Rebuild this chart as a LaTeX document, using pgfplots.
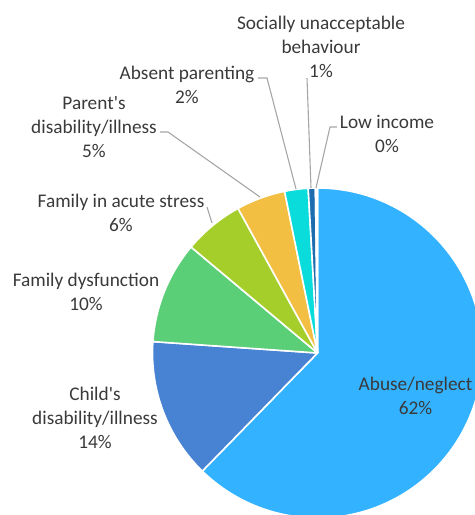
\documentclass[border=0pt]{standalone}
\usepackage{pgfplots}
\pgfplotsset{compat=1.18}
\usepackage{pgfplotstable}
\usepackage{fontspec}
\setmainfont{Carlito}
\definecolor{cabuse}{HTML}{33B2FF}
\definecolor{cchild}{HTML}{4782D3}
\definecolor{cdysf}{HTML}{5BCE78}
\definecolor{cacute}{HTML}{A6CE2B}
\definecolor{cparent}{HTML}{F3BF42}
\definecolor{cabsent}{HTML}{0ADCDC}
\definecolor{csocial}{HTML}{1E6DAE}
\definecolor{clow}{HTML}{2E75B6}
\definecolor{ctext}{HTML}{3A3A3A}
\definecolor{cline}{HTML}{A6A6A6}
\tikzset{lbl/.style={font=\fontsize{19.3bp}{24bp}\selectfont, text=ctext, align=center, inner sep=0pt}}

\pgfplotstableread[col sep=comma]{
name,value,color
Abuse/neglect,62.3,cabuse
Child's disability/illness,13.8,cchild
Family dysfunction,10.0,cdysf
Family in acute stress,5.9,cacute
Parent's disability/illness,4.8,cparent
Absent parenting,2.3,cabsent
Socially unacceptable behaviour,0.7,csocial
Low income,0.2,clow
}\piedata

\begin{document}
\begin{tikzpicture}
\begin{axis}[
  x=1bp, y=1bp,
  xmin=0, xmax=475, ymin=0, ymax=515,
  hide axis, clip=true,
]
\path (rel axis cs:0,0) rectangle (rel axis cs:1,1);
\pgfplotstablegetrowsof{\piedata}
\pgfmathtruncatemacro{\lastrow}{\pgfplotsretval-1}
\def\curangle{90}
\pgfplotsforeachungrouped \i in {0,...,\lastrow}{%
  \pgfplotstablegetelem{\i}{value}\of\piedata
  \let\sliceval\pgfplotsretval
  \pgfplotstablegetelem{\i}{color}\of\piedata
  \let\slicecolor\pgfplotsretval
  \pgfmathsetmacro{\endangle}{\curangle-3.6*\sliceval}%
  \edef\temp{\noexpand\fill[\slicecolor, draw=white, line width=1.6bp, line join=round]
    (axis cs:317.5,162) -- ++(\curangle:165bp) arc[start angle=\curangle, end angle=\endangle, radius=165bp] -- cycle;}%
  \temp
  \global\let\curangle\endangle
}
% leader lines
\draw[cline, line width=1.1bp] (axis cs:258,437) -- (axis cs:267,437) -- (axis cs:296,326);
\draw[cline, line width=1.1bp] (axis cs:307,437) -- (axis cs:311,327);
\draw[cline, line width=1.1bp] (axis cs:337,388) -- (axis cs:330,388) -- (axis cs:316,327);
\draw[cline, line width=1.1bp] (axis cs:160,383) -- (axis cs:168,383) -- (axis cs:260,318);
\draw[cline, line width=1.1bp] (axis cs:207,308) -- (axis cs:212,292);
% labels
\node[lbl] at (axis cs:321,467.7) {Socially unacceptable\\behaviour\\1\%};
\node[lbl] at (axis cs:187,430.5) {Absent parenting\\2\%};
\node[lbl] at (axis cs:94,387.7) {Parent\textquotesingle s\\disability/illness\\5\%};
\node[lbl] at (axis cs:387,381) {Low income\\0\%};
\node[lbl] at (axis cs:121,302) {Family in acute stress\\6\%};
\node[lbl] at (axis cs:86,223.5) {Family dysfunction\\10\%};
\node[lbl] at (axis cs:95,97.3) {Child\textquotesingle s\\disability/illness\\14\%};
\node[lbl] at (axis cs:415.5,119.5) {Abuse/neglect\\62\%};
\end{axis}
\end{tikzpicture}
\end{document}
